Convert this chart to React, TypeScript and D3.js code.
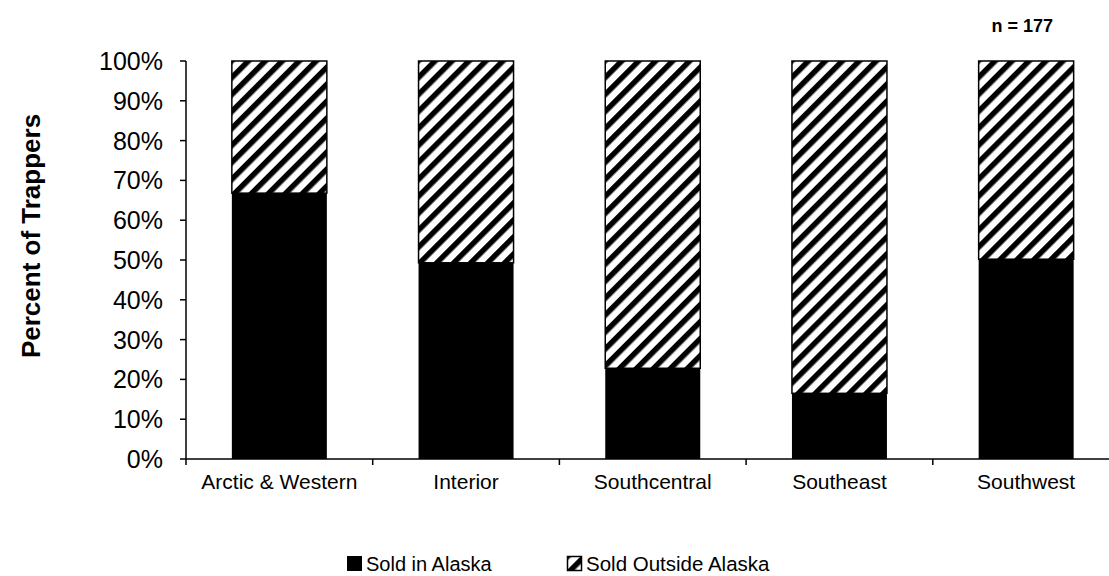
import React from "react";
import * as d3 from "d3";

const categories = ["Arctic & Western", "Interior", "Southcentral", "Southeast", "Southwest"];
const soldInAlaska = [66.8, 49.3, 22.8, 16.5, 50.2];
const soldOutside = soldInAlaska.map((v) => 100 - v);
const yTicks = [0, 10, 20, 30, 40, 50, 60, 70, 80, 90, 100];
const seriesNames = ["Sold in Alaska", "Sold Outside Alaska"];

export default function App() {
  const W = 1109, H = 576;
  const x0 = 186, y0 = 459, yTop = 61;
  const band = 186.7;
  const x = d3.scaleBand<string>().domain(categories).range([x0, x0 + band * 5]).paddingInner(0).paddingOuter(0);
  const y = d3.scaleLinear().domain([0, 100]).range([y0, yTop]);
  const bw = 95;
  const font = "Liberation Sans, Arial, sans-serif";
  return (
    <svg width={W} height={H} style={{ position: "absolute", left: 0, top: 0 }} fontFamily={font}>
      <defs>
        <pattern id="hatch" patternUnits="userSpaceOnUse" width={12} height={12} patternTransform="rotate(45)">
          <rect x={0} y={0} width={12} height={12} fill="#fff" />
          <rect x={0} y={0} width={5.5} height={12} fill="#000" />
        </pattern>
      </defs>
      <rect width={W} height={H} fill="#fff" />
      {categories.map((c, i) => {
        const cx = (x(c) as number) + x.bandwidth() / 2;
        return (
          <g key={c}>
            <rect x={cx - bw / 2} y={y(soldInAlaska[i] + soldOutside[i])} width={bw}
              height={y(soldInAlaska[i]) - y(100)} fill="url(#hatch)" stroke="#000" strokeWidth={1.5} />
            <rect x={cx - bw / 2} y={y(soldInAlaska[i])} width={bw} height={y0 - y(soldInAlaska[i])} fill="#000" />
          </g>
        );
      })}
      {/* y axis */}
      <line x1={x0} x2={x0} y1={yTop} y2={y0} stroke="#000" strokeWidth={1.5} />
      {yTicks.map((t) => (
        <g key={t}>
          <line x1={x0 - 6} x2={x0} y1={y(t)} y2={y(t)} stroke="#000" strokeWidth={1.5} />
          <text x={x0 - 23} y={y(t)} dy="0.36em" textAnchor="end" fontSize={25} fill="#000">{t}%</text>
        </g>
      ))}
      {/* x axis */}
      <line x1={x0} x2={W} y1={y0} y2={y0} stroke="#000" strokeWidth={1.5} />
      {categories.map((c, i) => (
        <line key={"t" + i} x1={x(c) as number} x2={x(c) as number} y1={y0} y2={y0 + 6} stroke="#000" strokeWidth={1.5} />
      ))}
      {categories.map((c) => (
        <text key={"l" + c} x={(x(c) as number) + x.bandwidth() / 2} y={489} textAnchor="middle" fontSize={21} fill="#000">{c}</text>
      ))}
      <text transform={`translate(40,236) rotate(-90)`} textAnchor="middle" fontSize={26} fontWeight="bold" fill="#000">Percent of Trappers</text>
      <text x={1053} y={32} textAnchor="end" fontSize={18} fontWeight="bold" fill="#000">n = 177</text>
      {/* legend */}
      <rect x={347} y={556} width={15} height={15} fill="#000" />
      <text x={366} y={571} fontSize={20} fill="#000">{seriesNames[0]}</text>
      <rect x={567.5} y={556.5} width={14} height={14} fill="url(#hatch)" stroke="#000" strokeWidth={1.5} />
      <text x={586} y={571} fontSize={20.5} fill="#000">{seriesNames[1]}</text>
    </svg>
  );
}
